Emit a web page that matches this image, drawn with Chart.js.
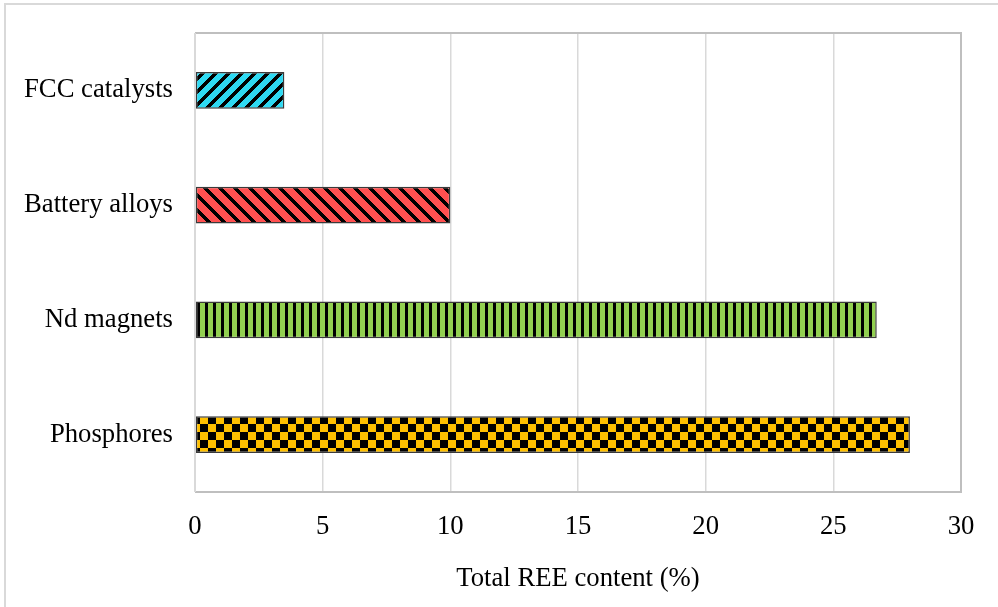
<!DOCTYPE html>
<html>
<head>
<meta charset="utf-8">
<script src="https://cdn.jsdelivr.net/npm/chart.js@4/dist/chart.umd.min.js"></script>
<style>
  html, body { margin: 0; padding: 0; background: #fff; }
  #wrap { width: 998px; height: 607px; }
</style>
</head>
<body>
<div id="wrap"><canvas id="chart" width="998" height="607"></canvas></div>
<script>
// Categories, top to bottom
const categories = ['FCC catalysts', 'Battery alloys', 'Nd magnets', 'Phosphores'];
// Total REE content (%) per category
const reeContent = [3.5, 10, 26.7, 28];
// Axis ticks
const xTicks = [0, 5, 10, 15, 20, 25, 30];

const serif = '"Liberation Serif", "Times New Roman", serif';

// Fill patterns built on small tiles
function tile(size, paint) {
  const c = document.createElement('canvas');
  c.width = size; c.height = size;
  const g = c.getContext('2d');
  paint(g, size);
  return g.createPattern(c, 'repeat');
}
function diagonal(bg, fg, period, width, dir) {
  return tile(period, (g, p) => {
    const img = g.createImageData(p, p);
    const parse = h => [parseInt(h.slice(1,3),16), parseInt(h.slice(3,5),16), parseInt(h.slice(5,7),16)];
    const b = parse(bg), f = parse(fg);
    for (let y = 0; y < p; y++) {
      for (let x = 0; x < p; x++) {
        const k = dir > 0 ? ((x + y) % p) : (((x - y) % p) + p) % p;
        const col = k < width ? f : b;
        const i = (y * p + x) * 4;
        img.data[i] = col[0]; img.data[i+1] = col[1]; img.data[i+2] = col[2]; img.data[i+3] = 255;
      }
    }
    g.putImageData(img, 0, 0);
  });
}
const cyanStripes = diagonal('#2ED9F2', '#000000', 13, 5, 1);
const redStripes = diagonal('#FF5050', '#000000', 15, 5, -1);
const greenBars = tile(8, (g) => {
  g.fillStyle = '#92D050'; g.fillRect(0, 0, 8, 8);
  g.fillStyle = '#000000'; g.fillRect(5, 0, 3, 8);
});
const checker = tile(16, (g) => {
  g.fillStyle = '#FFC000'; g.fillRect(0, 0, 16, 16);
  g.fillStyle = '#000000'; g.fillRect(0, 0, 8, 8); g.fillRect(8, 8, 8, 8);
});
const fills = [cyanStripes, redStripes, greenBars, checker];

// Frame around the plot area and the outer page border
const framePlugin = {
  id: 'frame',
  afterDraw(chart) {
    const { ctx, chartArea: a } = chart;
    ctx.save();
    ctx.strokeStyle = '#BFBFBF';
    ctx.lineWidth = 2;
    ctx.beginPath();
    ctx.moveTo(a.left, a.top); ctx.lineTo(a.right, a.top);
    ctx.lineTo(a.right, a.bottom); ctx.lineTo(a.left, a.bottom);
    ctx.stroke();
    ctx.strokeStyle = '#D9D9D9';
    ctx.beginPath();
    ctx.moveTo(a.left, a.top); ctx.lineTo(a.left, a.bottom);
    ctx.stroke();
    ctx.beginPath();
    ctx.moveTo(5, 607); ctx.lineTo(5, 4); ctx.lineTo(998, 4);
    ctx.stroke();
    ctx.restore();
  }
};

new Chart(document.getElementById('chart'), {
  type: 'bar',
  data: {
    labels: categories,
    datasets: [{
      data: reeContent,
      backgroundColor: fills,
      borderColor: '#3A3A3A',
      borderWidth: 1.5,
      borderSkipped: false,
      barPercentage: 0.64,
      categoryPercentage: 0.5
    }]
  },
  options: {
    indexAxis: 'y',
    responsive: false,
    animation: false,
    layout: { padding: { top: 33, right: 37, bottom: 12, left: 0 } },
    plugins: { legend: { display: false }, tooltip: { enabled: false } },
    scales: {
      x: {
        min: 0, max: 30,
        afterBuildTicks(scale) { scale.ticks = xTicks.map(v => ({ value: v })); },
        afterFit(scale) { scale.height = 103; scale.paddingLeft = 0; scale.paddingRight = 0; },
        grid: { color: '#D9D9D9', lineWidth: 1.5, drawTicks: false },
        border: { display: false },
        ticks: {
          padding: 19,
          color: '#000',
          font: { family: serif, size: 26.7 }
        },
        title: {
          display: true,
          text: 'Total REE content (%)',
          color: '#000',
          padding: { top: 0, bottom: 0 },
          font: { family: serif, size: 26.7 }
        }
      },
      y: {
        afterFit(scale) { scale.width = 195; scale.paddingTop = 0; scale.paddingBottom = 0; },
        grid: { display: false, drawTicks: false },
        border: { display: false },
        ticks: {
          padding: 22,
          color: '#000',
          font: { family: serif, size: 26.7 }
        }
      }
    }
  },
  plugins: [framePlugin]
});
</script>
</body>
</html>
